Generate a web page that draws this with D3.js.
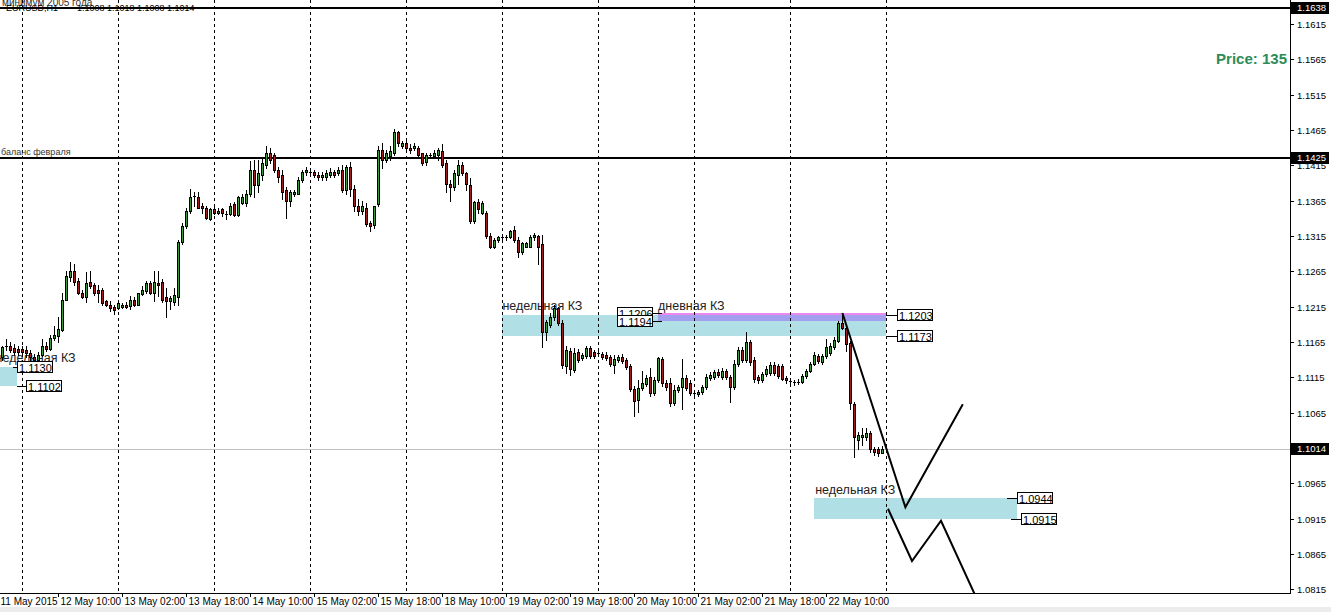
<!DOCTYPE html>
<html>
<head>
<meta charset="utf-8">
<script src="https://cdn.jsdelivr.net/npm/d3@7/dist/d3.min.js"></script>
<style>
  body { margin: 0; background: #fff; }
  svg { display: block; font-family: "Liberation Sans", Arial, sans-serif; }
</style>
</head>
<body>
<svg id="chart" width="1331" height="612"></svg>
<script>
// EURUSD H1, bars 0..220 (11 May 2015 .. 22 May 2015)
var open = [
  1.1144,1.1160,1.1159,1.1156,1.1155,1.1155,1.1153,1.1149,1.1144,1.1139,
  1.1146,1.1160,1.1155,1.1170,1.1173,1.1182,1.1225,1.1257,1.1265,1.1252,
  1.1235,1.1228,1.1250,1.1245,1.1238,1.1238,1.1223,1.1218,1.1214,1.1213,
  1.1214,1.1218,1.1216,1.1225,1.1218,1.1233,1.1237,1.1248,1.1234,1.1248,
  1.1250,1.1228,1.1223,1.1221,1.1228,1.1306,1.1329,1.1350,1.1370,1.1370,
  1.1358,1.1355,1.1339,1.1353,1.1347,1.1353,1.1346,1.1346,1.1360,1.1344,
  1.1361,1.1361,1.1375,1.1408,1.1387,1.1401,1.1415,1.1432,1.1429,1.1409,
  1.1401,1.1380,1.1364,1.1375,1.1375,1.1394,1.1405,1.1406,1.1406,1.1402,
  1.1398,1.1399,1.1401,1.1405,1.1404,1.1409,1.1380,1.1412,1.1382,1.1357,
  1.1351,1.1355,1.1333,1.1330,1.1360,1.1436,1.1423,1.1428,1.1432,1.1462,
  1.1443,1.1446,1.1440,1.1439,1.1440,1.1432,1.1419,1.1428,1.1428,1.1429,
  1.1435,1.1418,1.1389,1.1384,1.1401,1.1416,1.1404,1.1387,1.1336,1.1363,
  1.1348,1.1348,1.1315,1.1300,1.1310,1.1313,1.1313,1.1313,1.1324,1.1310,
  1.1292,1.1300,1.1300,1.1313,1.1315,1.1303,1.1179,1.1189,1.1200,1.1213,
  1.1192,1.1131,1.1152,1.1125,1.1151,1.1142,1.1145,1.1156,1.1151,1.1149,
  1.1148,1.1146,1.1144,1.1132,1.1139,1.1144,1.1139,1.1131,1.1098,1.1083,
  1.1100,1.1105,1.1115,1.1093,1.1111,1.1141,1.1107,1.1107,1.1078,1.1097,
  1.1101,1.1114,1.1107,1.1093,1.1091,1.1094,1.1101,1.1114,1.1115,1.1122,
  1.1115,1.1124,1.1115,1.1101,1.1134,1.1153,1.1139,1.1165,1.1139,1.1115,
  1.1111,1.1119,1.1121,1.1132,1.1131,1.1131,1.1114,1.1110,1.1108,1.1107,
  1.1108,1.1117,1.1124,1.1134,1.1145,1.1136,1.1145,1.1149,1.1158,1.1166,
  1.1192,1.1185,1.1163,1.1077,1.1026,1.1030,1.1030,1.1036,1.1013,1.1013,
  1.1008
];
var high = [
  1.1160,1.1169,1.1165,1.1162,1.1159,1.1159,1.1159,1.1153,1.1148,1.1151,
  1.1169,1.1165,1.1175,1.1187,1.1201,1.1235,1.1265,1.1278,1.1275,1.1255,
  1.1238,1.1264,1.1265,1.1248,1.1245,1.1241,1.1225,1.1223,1.1217,1.1223,
  1.1220,1.1221,1.1230,1.1228,1.1235,1.1244,1.1251,1.1251,1.1265,1.1265,
  1.1254,1.1242,1.1230,1.1242,1.1309,1.1334,1.1355,1.1381,1.1377,1.1377,
  1.1361,1.1357,1.1354,1.1357,1.1355,1.1355,1.1350,1.1361,1.1363,1.1372,
  1.1375,1.1380,1.1421,1.1423,1.1422,1.1425,1.1443,1.1439,1.1432,1.1413,
  1.1408,1.1384,1.1380,1.1380,1.1399,1.1409,1.1412,1.1409,1.1408,1.1405,
  1.1405,1.1409,1.1411,1.1409,1.1412,1.1416,1.1416,1.1419,1.1387,1.1367,
  1.1365,1.1361,1.1336,1.1358,1.1443,1.1446,1.1436,1.1443,1.1467,1.1464,
  1.1450,1.1450,1.1445,1.1446,1.1443,1.1433,1.1433,1.1433,1.1436,1.1439,
  1.1445,1.1422,1.1394,1.1408,1.1422,1.1419,1.1405,1.1397,1.1365,1.1368,
  1.1365,1.1351,1.1319,1.1312,1.1315,1.1316,1.1316,1.1324,1.1329,1.1313,
  1.1307,1.1307,1.1316,1.1319,1.1316,1.1316,1.1196,1.1206,1.1217,1.1214,
  1.1196,1.1160,1.1156,1.1156,1.1155,1.1149,1.1159,1.1159,1.1153,1.1152,
  1.1151,1.1151,1.1146,1.1146,1.1146,1.1148,1.1142,1.1134,1.1103,1.1111,
  1.1124,1.1118,1.1128,1.1115,1.1144,1.1144,1.1111,1.1114,1.1104,1.1104,
  1.1141,1.1118,1.1111,1.1097,1.1097,1.1104,1.1119,1.1122,1.1125,1.1127,
  1.1128,1.1127,1.1118,1.1139,1.1158,1.1158,1.1179,1.1168,1.1144,1.1118,
  1.1122,1.1131,1.1136,1.1136,1.1134,1.1134,1.1117,1.1112,1.1111,1.1112,
  1.1119,1.1127,1.1136,1.1151,1.1148,1.1148,1.1169,1.1163,1.1172,1.1194,
  1.1206,1.1189,1.1166,1.1080,1.1037,1.1043,1.1043,1.1039,1.1016,1.1016,
  1.1018
];
var low = [
  1.1139,1.1153,1.1151,1.1146,1.1146,1.1145,1.1144,1.1139,1.1136,1.1136,
  1.1145,1.1152,1.1153,1.1168,1.1165,1.1180,1.1224,1.1252,1.1245,1.1233,
  1.1227,1.1221,1.1241,1.1231,1.1221,1.1218,1.1216,1.1209,1.1204,1.1211,
  1.1213,1.1213,1.1211,1.1216,1.1217,1.1231,1.1235,1.1233,1.1223,1.1230,
  1.1221,1.1200,1.1211,1.1218,1.1218,1.1303,1.1327,1.1348,1.1358,1.1354,
  1.1348,1.1339,1.1337,1.1346,1.1346,1.1343,1.1339,1.1344,1.1343,1.1343,
  1.1360,1.1357,1.1372,1.1370,1.1377,1.1394,1.1411,1.1418,1.1405,1.1391,
  1.1367,1.1340,1.1358,1.1372,1.1374,1.1392,1.1401,1.1402,1.1399,1.1394,
  1.1394,1.1394,1.1398,1.1398,1.1401,1.1377,1.1375,1.1372,1.1350,1.1344,
  1.1346,1.1329,1.1322,1.1326,1.1358,1.1411,1.1419,1.1422,1.1430,1.1443,
  1.1439,1.1436,1.1433,1.1436,1.1425,1.1415,1.1416,1.1425,1.1425,1.1422,
  1.1412,1.1377,1.1365,1.1380,1.1388,1.1401,1.1380,1.1334,1.1334,1.1348,
  1.1346,1.1312,1.1298,1.1298,1.1307,1.1309,1.1310,1.1312,1.1307,1.1285,
  1.1289,1.1299,1.1299,1.1310,1.1276,1.1158,1.1168,1.1186,1.1196,1.1189,
  1.1128,1.1121,1.1118,1.1122,1.1136,1.1139,1.1142,1.1142,1.1142,1.1145,
  1.1141,1.1139,1.1131,1.1121,1.1136,1.1135,1.1127,1.1095,1.1060,1.1066,
  1.1097,1.1103,1.1088,1.1090,1.1108,1.1103,1.1097,1.1074,1.1076,1.1094,
  1.1070,1.1097,1.1090,1.1088,1.1088,1.1091,1.1098,1.1111,1.1112,1.1115,
  1.1112,1.1112,1.1080,1.1098,1.1131,1.1136,1.1136,1.1132,1.1108,1.1107,
  1.1108,1.1117,1.1118,1.1118,1.1114,1.1111,1.1107,1.1105,1.1104,1.1105,
  1.1107,1.1114,1.1122,1.1132,1.1135,1.1134,1.1142,1.1146,1.1155,1.1165,
  1.1183,1.1152,1.1070,1.1002,1.1013,1.1019,1.1026,1.1009,1.1005,1.1004,
  1.1008
];
var close = [
  1.1158,1.1158,1.1153,1.1151,1.1151,1.1151,1.1149,1.1144,1.1139,1.1146,
  1.1160,1.1155,1.1170,1.1175,1.1183,1.1224,1.1258,1.1265,1.1250,1.1235,
  1.1228,1.1248,1.1244,1.1235,1.1234,1.1220,1.1218,1.1213,1.1210,1.1220,
  1.1218,1.1214,1.1225,1.1218,1.1234,1.1238,1.1248,1.1234,1.1250,1.1245,
  1.1224,1.1223,1.1227,1.1231,1.1306,1.1329,1.1350,1.1370,1.1371,1.1355,
  1.1355,1.1340,1.1353,1.1348,1.1351,1.1348,1.1344,1.1358,1.1344,1.1370,
  1.1370,1.1375,1.1409,1.1387,1.1404,1.1418,1.1432,1.1422,1.1409,1.1399,
  1.1377,1.1364,1.1377,1.1377,1.1394,1.1406,1.1408,1.1404,1.1402,1.1399,
  1.1402,1.1404,1.1405,1.1402,1.1409,1.1380,1.1412,1.1382,1.1357,1.1351,
  1.1357,1.1332,1.1329,1.1357,1.1436,1.1422,1.1432,1.1435,1.1462,1.1446,
  1.1447,1.1440,1.1436,1.1443,1.1430,1.1418,1.1430,1.1430,1.1433,1.1436,
  1.1415,1.1389,1.1384,1.1404,1.1415,1.1404,1.1388,1.1336,1.1363,1.1353,
  1.1361,1.1315,1.1300,1.1309,1.1313,1.1312,1.1312,1.1322,1.1310,1.1292,
  1.1305,1.1305,1.1313,1.1316,1.1300,1.1179,1.1193,1.1200,1.1213,1.1192,
  1.1132,1.1153,1.1127,1.1149,1.1139,1.1146,1.1156,1.1145,1.1145,1.1148,
  1.1144,1.1142,1.1134,1.1141,1.1144,1.1138,1.1129,1.1098,1.1081,1.1100,
  1.1107,1.1114,1.1093,1.1111,1.1142,1.1107,1.1101,1.1078,1.1097,1.1101,
  1.1114,1.1100,1.1093,1.1091,1.1094,1.1101,1.1115,1.1118,1.1122,1.1118,
  1.1124,1.1115,1.1101,1.1134,1.1153,1.1139,1.1165,1.1136,1.1112,1.1111,
  1.1119,1.1127,1.1132,1.1121,1.1117,1.1112,1.1111,1.1108,1.1107,1.1108,
  1.1117,1.1124,1.1134,1.1146,1.1138,1.1145,1.1158,1.1160,1.1168,1.1192,
  1.1185,1.1162,1.1078,1.1030,1.1033,1.1033,1.1036,1.1013,1.1009,1.1008,
  1.1014
];

// axes
var priceTicks = [1.1615,1.1565,1.1515,1.1465,1.1415,1.1365,1.1315,1.1265,1.1215,
                  1.1165,1.1115,1.1065,1.1015,1.0965,1.0915,1.0865,1.0815];
var timeTickBars = [-1,14,30,46,62,78,94,110,126,142,158,174,190,206];
var timeTickLabels = ["11 May 2015","12 May 10:00","13 May 02:00","13 May 18:00",
  "14 May 10:00","15 May 02:00","15 May 18:00","18 May 10:00","19 May 02:00",
  "19 May 18:00","20 May 10:00","21 May 02:00","21 May 18:00","22 May 10:00"];
var gridBars = [5,29,53,77,101,125,149,173,197,221];

// horizontal levels
var levelPrices = [1.1638, 1.1425];
var levelNames = ["минимум 2005 года", "баланс февраля"];
var lastPrice = 1.1014;

// zones (bar range + price range)
var zoneFrom = [-1, 125, 203];
var zoneTo = [3.75, 221, 253.75];
var zoneTop = [1.1130, 1.1203, 1.0944];
var zoneBottom = [1.1102, 1.1173, 1.0915];
var dayZone = {from: 164, to: 221, top: 1.1206, bottom: 1.1194};

// zone captions
var captionText = ["недельная КЗ", "недельная КЗ", "дневная КЗ", "недельная КЗ"];
var captionBar = [-1.6, 125.1, 164, 203.3];
var captionPrice = [1.1137, 1.1210, 1.1210, 1.0950];

// price label objects
var plPrice = [1.1130, 1.1102, 1.1206, 1.1194, 1.1203, 1.1173, 1.0944, 1.0915];
var plStub = [2.75, 3.75, 165, 165, 221, 221, 251.25, 252.25];
var plBox = [3.75, 6, 162.5, 162.5, 223.75, 223.75, 253.75, 254.75];
var plSide = ["r", "r", "l", "l", "r", "r", "r", "r"];

// trend lines (bar, price)
var trendA_bar = [210.1, 225.85, 240.2];
var trendA_price = [1.1206, 1.0931, 1.1077];
var trendB_bar = [221.5, 227.5, 234.75, 243.5];
var trendB_price = [1.0929, 1.0855, 1.0912, 1.0804];

var W = 1331, H = 612, plotR = 1290, plotB = 593;
var svg = d3.select("#chart");

var x = d3.scaleLinear().domain([0, 220]).range([2, 882]);
var y = d3.scaleLinear().domain([1.1615, 1.0815]).range([24, 589.3]);
function cr(v) { return Math.round(v) + 0.5; }

svg.append("rect").attr("width", W).attr("height", H).attr("fill", "#fff");
svg.append("rect").attr("x", 0).attr("y", 607).attr("width", W).attr("height", 5).attr("fill", "#ececec");

svg.append("clipPath").attr("id", "plot")
  .append("rect").attr("x", 0).attr("y", 0).attr("width", plotR).attr("height", plotB);

var g = svg.append("g").attr("clip-path", "url(#plot)");

// zones
zoneFrom.forEach(function (f, k) {
  g.append("rect")
    .attr("x", Math.round(x(f))).attr("y", Math.round(y(zoneTop[k])))
    .attr("width", Math.round(x(zoneTo[k])) - Math.round(x(f)))
    .attr("height", Math.round(y(zoneBottom[k])) - Math.round(y(zoneTop[k])))
    .attr("fill", "#b0e0e6");
});
g.append("rect")
  .attr("x", Math.round(x(dayZone.from))).attr("y", Math.round(y(dayZone.top)))
  .attr("width", Math.round(x(dayZone.to)) - Math.round(x(dayZone.from)))
  .attr("height", Math.round(y(dayZone.bottom)) - Math.round(y(dayZone.top)))
  .attr("fill", "#ee88ee");
// overlap of the daily zone with the weekly zone
var ovTop = Math.min(dayZone.top, zoneTop[1]), ovBot = Math.max(dayZone.bottom, zoneBottom[1]);
g.append("rect")
  .attr("x", Math.round(x(dayZone.from))).attr("y", Math.round(y(ovTop)))
  .attr("width", Math.round(x(dayZone.to)) - Math.round(x(dayZone.from)))
  .attr("height", Math.round(y(ovBot)) - Math.round(y(ovTop)))
  .attr("fill", "#a2a0ee");

// captions (behind candles)
captionText.forEach(function (t, k) {
  g.append("text").attr("x", x(captionBar[k])).attr("y", y(captionPrice[k]))
    .attr("font-size", "12.5px").attr("fill", "#222").text(t);
});

// vertical dashed grid
g.selectAll(".vgrid").data(gridBars).enter().append("line")
  .attr("x1", function (d) { return cr(x(d)); }).attr("x2", function (d) { return cr(x(d)); })
  .attr("y1", 0).attr("y2", plotB)
  .attr("stroke", "#000").attr("stroke-width", 1).attr("stroke-dasharray", "3,3");

// current price line
g.append("line").attr("x1", 0).attr("x2", plotR)
  .attr("y1", cr(y(lastPrice))).attr("y2", cr(y(lastPrice)))
  .attr("stroke", "#c0c0c0").attr("stroke-width", 1);

// level lines
levelPrices.forEach(function (p, k) {
  g.append("line").attr("x1", 0).attr("x2", plotR)
    .attr("y1", Math.round(y(p))).attr("y2", Math.round(y(p)))
    .attr("stroke", "#000").attr("stroke-width", 2);
});
g.append("text").attr("x", 1).attr("y", Math.round(y(levelPrices[1])) - 3)
  .attr("font-size", "9px").attr("fill", "#333").text(levelNames[1]);

// candles
var bars = d3.range(open.length);
var cg = g.append("g");
bars.forEach(function (i) {
  var cx = Math.round(x(i));
  var up = close[i] >= open[i];
  var top = Math.round(y(Math.max(open[i], close[i])));
  var bot = Math.round(y(Math.min(open[i], close[i])));
  cg.append("line").attr("x1", cx + 0.5).attr("x2", cx + 0.5)
    .attr("y1", Math.round(y(high[i]))).attr("y2", Math.round(y(low[i])) + 1)
    .attr("stroke", "#000").attr("stroke-width", 1);
  if (bot - top < 2) {
    cg.append("line").attr("x1", cx - 1).attr("x2", cx + 2)
      .attr("y1", top + 0.5).attr("y2", top + 0.5)
      .attr("stroke", "#000").attr("stroke-width", 1);
  } else {
    cg.append("rect").attr("x", cx - 0.5).attr("y", top + 0.5)
      .attr("width", 2).attr("height", bot - top)
      .attr("fill", up ? "#3c9c3c" : "#a01c1c")
      .attr("stroke", "#000").attr("stroke-width", 1);
  }
});

// trend lines
var tl = d3.line().x(function (d) { return x(d[0]); }).y(function (d) { return y(d[1]); });
[[trendA_bar, trendA_price], [trendB_bar, trendB_price]].forEach(function (t) {
  g.append("path").attr("d", tl(d3.zip(t[0], t[1])))
    .attr("fill", "none").attr("stroke", "#000").attr("stroke-width", 2);
});

// price label objects
plPrice.forEach(function (p, k) {
  var yy = cr(y(p));
  var sx = Math.round(x(plStub[k])), bx = Math.round(x(plBox[k]));
  var bw = 35;
  var left = plSide[k] === "r" ? bx : bx - bw;
  g.append("line").attr("x1", sx).attr("x2", bx).attr("y1", yy).attr("y2", yy)
    .attr("stroke", "#000").attr("stroke-width", 1);
  g.append("rect").attr("x", left + 0.5).attr("y", yy - 6).attr("width", bw).attr("height", 11)
    .attr("fill", "#fff").attr("stroke", "#000").attr("stroke-width", 1);
  g.append("text").attr("x", left + 2).attr("y", yy + 4)
    .attr("font-size", "11px").attr("fill", "#000").text(p.toFixed(4));
});

// top-left texts
svg.append("text").attr("x", 2).attr("y", 6).attr("font-size", "10px").attr("fill", "#333").text(levelNames[0]);
svg.append("text").attr("x", 6).attr("y", 11).attr("font-size", "9px").attr("fill", "#000").text("EURUSD,H1");
svg.append("text").attr("x", 77).attr("y", 11).attr("font-size", "9px").attr("fill", "#000")
  .text([open[220], high[220], low[220], close[220]].map(function (v) { return v.toFixed(4); }).join(" "));

// Price label
svg.append("text").attr("x", 1287).attr("y", 64).attr("text-anchor", "end")
  .attr("font-size", "15px").attr("font-weight", "bold").attr("fill", "#2e8b57").text("Price: 135");

// axes
svg.append("line").attr("x1", plotR + 0.5).attr("x2", plotR + 0.5).attr("y1", 0).attr("y2", plotB + 1)
  .attr("stroke", "#000");
svg.append("line").attr("x1", 0).attr("x2", plotR + 1).attr("y1", plotB + 0.5).attr("y2", plotB + 0.5)
  .attr("stroke", "#000");

var ya = svg.append("g");
priceTicks.forEach(function (p) {
  var yy = cr(y(p));
  ya.append("line").attr("x1", plotR).attr("x2", plotR + 4).attr("y1", yy).attr("y2", yy).attr("stroke", "#000");
  ya.append("text").attr("x", plotR + 7).attr("y", yy).attr("dy", "0.35em")
    .attr("font-size", "9.5px").attr("fill", "#000").text(p.toFixed(4));
});
levelPrices.concat([lastPrice]).forEach(function (p) {
  var yy = Math.round(y(p));
  ya.append("rect").attr("x", plotR + 1).attr("y", yy - 6).attr("width", 38).attr("height", 12).attr("fill", "#000");
  ya.append("text").attr("x", plotR + 7).attr("y", yy).attr("dy", "0.35em")
    .attr("font-size", "9.5px").attr("fill", "#fff").text(p.toFixed(4));
});

var xa = svg.append("g");
timeTickBars.forEach(function (b, k) {
  var xx = cr(x(b));
  xa.append("line").attr("x1", xx).attr("x2", xx).attr("y1", plotB).attr("y2", plotB + 4).attr("stroke", "#000");
  xa.append("text").attr("x", Math.max(0, xx + 2)).attr("y", 605)
    .attr("font-size", "10px").attr("fill", "#000").text(timeTickLabels[k]);
});
</script>
</body>
</html>
